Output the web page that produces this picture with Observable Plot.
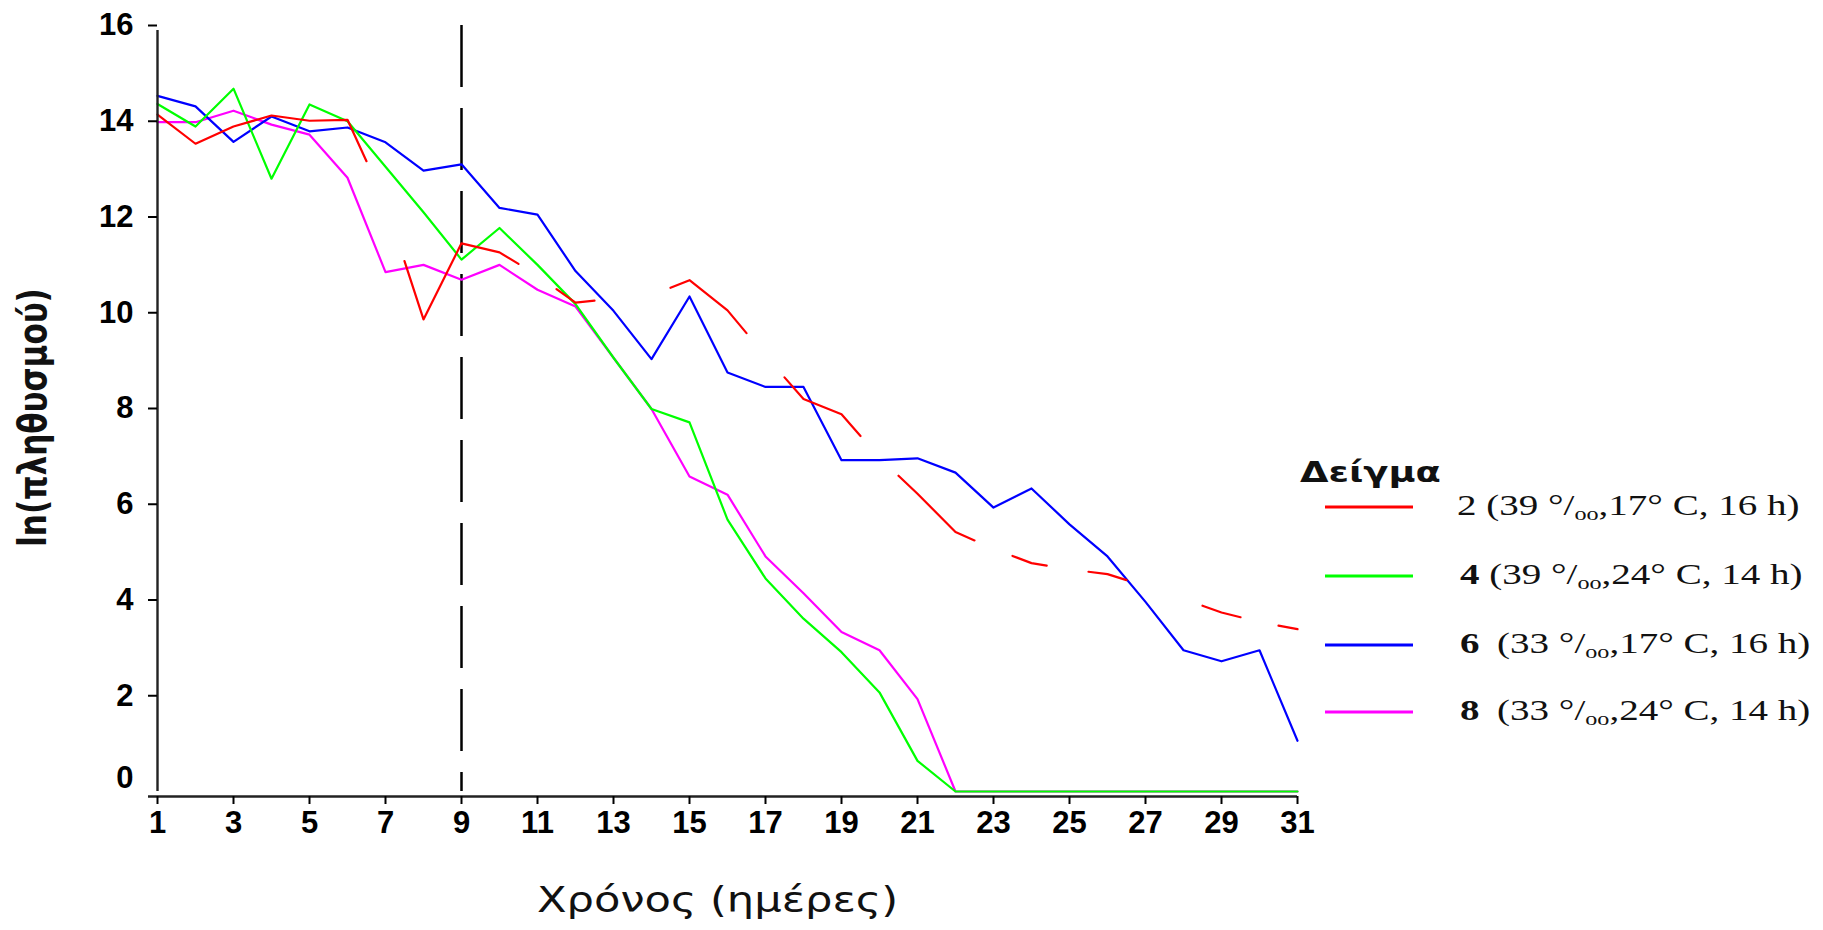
<!DOCTYPE html>
<html>
<head>
<meta charset="utf-8">
<script src="https://cdn.jsdelivr.net/npm/d3@7"></script>
<script src="https://cdn.jsdelivr.net/npm/@observablehq/plot@0.6"></script>
<style>
html,body{margin:0;padding:0;background:#fff;}
#wrap{position:relative;width:1823px;height:930px;overflow:hidden;background:#fff;}
#wrap svg{position:absolute;left:0;top:0;}
.lg-title{position:absolute;font:bold 29px "DejaVu Sans";color:#111;transform:translateY(-50%) scaleX(1.27);transform-origin:left center;white-space:nowrap;}
.lg-line{position:absolute;height:0;border-top:3px solid;transform:translateY(-50%);}
.lg-text{position:absolute;font:30px "Liberation Serif";color:#111;transform:translateY(-50%) scaleX(1.3);transform-origin:left center;white-space:nowrap;}
.lg-text b{font-weight:bold;}
.lg-text .sub{position:relative;top:0.25em;font-size:0.62em;}
.lg-text .gap{display:inline-block;width:0.45em;}
</style>
</head>
<body>
<div id="wrap"></div>
<script>
// ---- data ----
const days = [1,2,3,4,5,6,7,8,9,10,11,12,13,14,15,16,17,18,19,20,21,22,23,24,25,26,27,28,29,30,31];
const xTicks = [1,3,5,7,9,11,13,15,17,19,21,23,25,27,29,31];
const yTicks = [2,4,6,8,10,12,14,16];

// Sample 2 (39 ‰, 17 °C, 16 h)
const sample2 = [14.14,13.53,13.89,14.12,14.01,14.03,12.3,9.86,11.45,11.26,10.78,10.21,10.3,10.36,10.68,10.05,9.1,8.2,7.88,6.97,6.22,5.42,5.07,4.77,4.64,4.54,4.29,4.02,3.74,3.54,3.39];
// Sample 4 (39 ‰, 24 °C, 14 h)
const sample4 = [14.36,13.89,14.68,12.8,14.35,14.0,13.05,12.1,11.11,11.77,11.0,10.18,9.06,7.99,7.71,5.68,4.45,3.61,2.91,2.07,0.64,0,0,0,0,0,0,0,0,0,0];
// Sample 6 (33 ‰, 17 °C, 16 h)
const sample6 = [14.53,14.31,13.57,14.1,13.79,13.87,13.56,12.97,13.1,12.19,12.05,10.87,10.04,9.03,10.34,8.75,8.45,8.45,6.92,6.92,6.96,6.66,5.93,6.33,5.58,4.91,3.96,2.95,2.72,2.95,1.06];
// Sample 8 (33 ‰, 24 °C, 14 h)
const sample8 = [13.98,13.98,14.22,13.93,13.72,12.82,10.85,11.0,10.69,11.0,10.48,10.13,9.06,7.99,6.58,6.2,4.91,4.14,3.33,2.95,1.93,0,0,0,0,0,0,0,0,0,0];

const sampleNames = ["2","4","6","8"];
const salinity = ["39","39","33","33"];
const temperature = ["17","24","17","24"];
const photoperiod = ["16","14","16","14"];
const colors = ["#ff0000","#00ff00","#0000ff","#ff00ff"];

// day ranges in which the long-dashed red line (sample 2) is drawn
const redVisible = [[1,6.5],[7.5,10.5],[11.5,12.5],[14.5,16.5],[17.5,19.5],[20.5,22.5],[23.5,24.4],[25.5,26.5],[28.5,29.5],[30.5,31]];
const markerDay = 9;

const xTitle = "Χρόνος (ημέρες)";
const yTitle = "ln(πληθυσμού)";
const legendTitle = "Δείγμα";

const rows = (vals, s) => days.map((d, i) => ({day: d, value: vals[i], sample: s}));
const tickFont = "Liberation Sans";

const plot = Plot.plot({
  width: 1823,
  height: 930,
  marginLeft: 157,
  marginRight: 526,
  marginTop: 25,
  marginBottom: 139,
  style: {fontFamily: tickFont, background: "#fff", color: "#000"},
  x: {domain: [1, 31]},
  y: {domain: [0, 16]},
  marks: [
    Plot.ruleX([markerDay], {y1: 16, y2: 0, stroke: "#000", strokeWidth: 2.5, strokeDasharray: "62,21"}),
    Plot.line(rows(sample8, "8"), {x: "day", y: "value", stroke: colors[3], strokeWidth: 2.2}),
    Plot.line(rows(sample6, "6"), {x: "day", y: "value", stroke: colors[2], strokeWidth: 2.2}),
    Plot.line(rows(sample4, "4"), {x: "day", y: "value", stroke: colors[1], strokeWidth: 2.2}),
    Plot.line(rows(sample2, "2"), {x: "day", y: "value", stroke: colors[0], strokeWidth: 2.2}),
    Plot.ruleX([1], {y1: 0, y2: 16, stroke: "#222", strokeWidth: 2.4, insetBottom: -5}),
    Plot.ruleY([0], {x1: 1, x2: 31, stroke: "#222", strokeWidth: 2.4, dy: 5, insetLeft: -9}),
    Plot.axisX({ticks: xTicks, tickSize: 8, tickPadding: 6, dy: 5, fontSize: 31, fontWeight: "bold", label: null, tickFormat: d => String(d), strokeWidth: 2}),
    Plot.axisY({ticks: yTicks, tickSize: 9, tickPadding: 15, fontSize: 31, fontWeight: "bold", label: null, tickFormat: d => String(d), strokeWidth: 2}),
    Plot.axisY({ticks: [0], tickSize: 0, tickPadding: 24, dy: -13, fontSize: 31, fontWeight: "bold", label: null, tickFormat: d => String(d)}),
    Plot.text([xTitle], {text: d => d, frameAnchor: "bottom", lineAnchor: "middle", textAnchor: "middle", dy: 120, dx: -10, fontSize: 36, fontFamily: "DejaVu Sans", fill: "#111"}),
    Plot.text([yTitle], {text: d => d, frameAnchor: "left", lineAnchor: "middle", textAnchor: "middle", rotate: -90, dx: -112, dy: 9, fontSize: 31, fontWeight: "bold", fontFamily: "DejaVu Sans", fill: "#111"})
  ]
});

const wrap = document.getElementById("wrap");
wrap.appendChild(plot);

// glyphs of the axis titles are stretched in the reference
function stretch(t, sx, sy) {
  const x = +t.getAttribute("x") || 0, y = +t.getAttribute("y") || 0;
  t.removeAttribute("x"); t.removeAttribute("y");
  const old = t.getAttribute("transform") || "";
  t.setAttribute("transform", `${old} translate(${x},${y}) scale(${sx},${sy})`);
}
plot.querySelectorAll("text").forEach(t => {
  if (t.textContent === xTitle) stretch(t, 1.2, 1);
  if (t.textContent === yTitle) stretch(t, 1, 1.25);
});

// long-dash pattern of the red line, placed at the day ranges above
const redPath = plot.querySelector('g[stroke="#ff0000"] path');
if (redPath) {
  const xs = plot.scale("x");
  const total = redPath.getTotalLength();
  const lenAtX = px => {
    let lo = 0, hi = total;
    for (let k = 0; k < 40; k++) {
      const mid = (lo + hi) / 2;
      if (redPath.getPointAtLength(mid).x < px) lo = mid; else hi = mid;
    }
    return (lo + hi) / 2;
  };
  const arr = [0];
  let pos = 0;
  redVisible.forEach(([a, b]) => {
    const la = lenAtX(xs.apply(a)), lb = lenAtX(xs.apply(b));
    arr.push(Math.max(0, la - pos), Math.max(0, lb - la));
    pos = lb;
  });
  arr.push(total - pos + 20);
  redPath.setAttribute("stroke-dasharray", arr.map(v => v.toFixed(2)).join(","));
}

// legend (HTML, right of the chart)
const lgTop = 472, lgRow = [505, 574, 643, 710];
const title = document.createElement("div");
title.className = "lg-title";
title.style.left = "1300px";
title.style.top = lgTop + "px";
title.textContent = legendTitle;
wrap.appendChild(title);
sampleNames.forEach((n, i) => {
  const ln = document.createElement("div");
  ln.className = "lg-line";
  ln.style.left = "1325px";
  ln.style.width = "88px";
  ln.style.top = (lgRow[i] + 2) + "px";
  ln.style.borderTopColor = colors[i];
  wrap.appendChild(ln);
  const tx = document.createElement("div");
  tx.className = "lg-text";
  tx.style.left = (i === 0 ? 1457 : 1460) + "px";
  tx.style.top = lgRow[i] + "px";
  const num = i === 0 ? n : `<b>${n}</b>`;
  const gap = i >= 2 ? `<span class="gap"></span>` : "&nbsp;";
  tx.innerHTML = `${num}${gap}(${salinity[i]} °/<span class="sub">oo</span>,${temperature[i]}° C, ${photoperiod[i]} h)`;
  wrap.appendChild(tx);
});
</script>
</body>
</html>
